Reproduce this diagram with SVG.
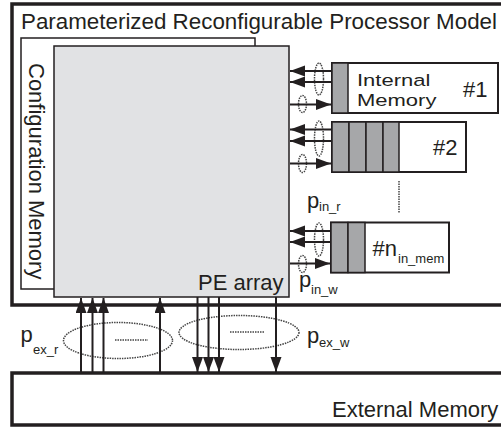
<svg xmlns="http://www.w3.org/2000/svg" width="501" height="428" viewBox="0 0 501 428">
<style>
text{font-family:"Liberation Sans",Arial,sans-serif;fill:#231f20;font-size:22px}
.sub{font-size:13px}
.thick{fill:none;stroke:#231f20;stroke-width:3.5}
.box{fill:#fff;stroke:#231f20;stroke-width:2}
.seg{fill:#a6a7a9;stroke:#231f20;stroke-width:1.5}
.arr{stroke:#231f20;stroke-width:2;fill:none}
.dot{fill:none;stroke:#444;stroke-width:1.5;stroke-dasharray:1.5 1}
</style>
<defs>
<marker id="ah" markerUnits="userSpaceOnUse" markerWidth="16" markerHeight="12" refX="15" refY="5.5" orient="auto">
<path d="M0,0 L15,5.5 L0,11 z" fill="#231f20"/>
</marker>
</defs>
<rect width="501" height="428" fill="#fff"/>
<g id="processor-model">
<rect class="thick" x="12" y="4" width="500" height="301"/>
<text x="21" y="28.5" textLength="476" lengthAdjust="spacingAndGlyphs">Parameterized Reconfigurable Processor Model</text>
</g>
<g id="config-memory">
<rect x="21" y="38" width="234" height="251" fill="#fff" stroke="#231f20" stroke-width="1.5"/>
<text transform="translate(29,63) rotate(90)">Configuration Memory</text>
</g>
<g id="pe-array">
<rect x="54" y="46" width="235" height="251" fill="#e1e2e4" stroke="#231f20" stroke-width="1.5"/>
<text x="198" y="290">PE array</text>
</g>
<g id="internal-memory-1">
<rect class="box" x="332" y="63" width="166" height="50"/>
<rect class="seg" x="332" y="63" width="16" height="50"/>
<text transform="translate(357,86) scale(1,0.78)">Internal</text>
<text transform="translate(357,105.5) scale(1,0.78)">Memory</text>
<text x="463" y="97">#1</text>
</g>
<g id="internal-memory-2">
<rect class="box" x="332" y="122" width="134" height="50"/>
<rect class="seg" x="332" y="122" width="17" height="50"/>
<rect class="seg" x="349" y="122" width="17" height="50"/>
<rect class="seg" x="366" y="122" width="17" height="50"/>
<rect class="seg" x="383" y="122" width="16" height="50"/>
<text x="433" y="155">#2</text>
</g>
<g id="internal-memory-n">
<rect class="box" x="331" y="222.5" width="118" height="50"/>
<rect class="seg" x="331" y="222.5" width="17" height="50"/>
<rect class="seg" x="348" y="222.5" width="17" height="50"/>
<text x="372.5" y="256">#n<tspan class="sub" x="398" y="263">in_mem</tspan></text>
</g>
<g id="external-memory">
<rect class="thick" x="12" y="373" width="500" height="52"/>
<text x="332" y="417">External Memory</text>
</g>
<g id="labels">
<text x="307" y="208">p<tspan class="sub" x="319" y="211">in_r</tspan></text>
<text x="299" y="287">p<tspan class="sub" x="311" y="294">in_w</tspan></text>
<text x="20.5" y="342">p<tspan class="sub" x="33" y="354">ex_r</tspan></text>
<text x="307" y="343">p<tspan class="sub" x="319" y="347">ex_w</tspan></text>
</g>
<g id="connectors">
<ellipse class="dot" cx="319" cy="79" rx="4.5" ry="16"/>
<ellipse class="dot" cx="302.5" cy="104" rx="4" ry="8.5"/>
<ellipse class="dot" cx="319" cy="138.5" rx="4.5" ry="17.5"/>
<ellipse class="dot" cx="302.5" cy="163.5" rx="4" ry="9"/>
<ellipse class="dot" cx="319" cy="239.5" rx="4.5" ry="16.5"/>
<ellipse class="dot" cx="302.5" cy="264" rx="4" ry="8.5"/>
<line class="dot" x1="399" y1="181" x2="399" y2="213"/>
<line class="arr" x1="332" y1="71" x2="290" y2="71" marker-end="url(#ah)"/>
<line class="arr" x1="332" y1="82" x2="290" y2="82" marker-end="url(#ah)"/>
<line class="arr" x1="290" y1="104.5" x2="331" y2="104.5" marker-end="url(#ah)"/>
<line class="arr" x1="332" y1="129.5" x2="290" y2="129.5" marker-end="url(#ah)"/>
<line class="arr" x1="332" y1="141" x2="290" y2="141" marker-end="url(#ah)"/>
<line class="arr" x1="290" y1="163.5" x2="331" y2="163.5" marker-end="url(#ah)"/>
<line class="arr" x1="331" y1="231" x2="290" y2="231" marker-end="url(#ah)"/>
<line class="arr" x1="331" y1="242" x2="290" y2="242" marker-end="url(#ah)"/>
<line class="arr" x1="290" y1="263.5" x2="330" y2="263.5" marker-end="url(#ah)"/>
<ellipse class="dot" cx="118" cy="340.5" rx="54.5" ry="18"/>
<line class="dot" x1="115" y1="340" x2="148" y2="340"/>
<ellipse class="dot" cx="239" cy="332.5" rx="60" ry="17"/>
<line class="dot" x1="230" y1="332" x2="264" y2="332"/>
<line class="arr" x1="81" y1="373" x2="81" y2="298" marker-end="url(#ah)"/>
<line class="arr" x1="92.5" y1="373" x2="92.5" y2="298" marker-end="url(#ah)"/>
<line class="arr" x1="103.5" y1="373" x2="103.5" y2="298" marker-end="url(#ah)"/>
<line class="arr" x1="160" y1="373" x2="160" y2="298" marker-end="url(#ah)"/>
<line class="arr" x1="197.5" y1="297" x2="197.5" y2="372" marker-end="url(#ah)"/>
<line class="arr" x1="208.5" y1="297" x2="208.5" y2="372" marker-end="url(#ah)"/>
<line class="arr" x1="219" y1="297" x2="219" y2="372" marker-end="url(#ah)"/>
<line class="arr" x1="276" y1="297" x2="276" y2="372" marker-end="url(#ah)"/>
</g>
</svg>
